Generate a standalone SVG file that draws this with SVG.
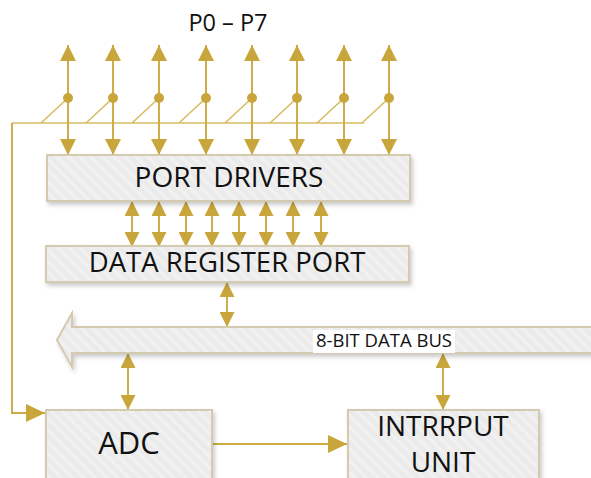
<svg xmlns="http://www.w3.org/2000/svg" width="591" height="478" viewBox="0 0 591 478">
<style>
.lbl{font-family:"Open Sans","Liberation Sans",sans-serif;fill:#111;text-anchor:middle}
.box{fill:url(#hatch);stroke:#d3cab0;stroke-width:2;filter:url(#sh)}
.ln{stroke:#cfac45;stroke-width:2;fill:none}
.thin{stroke:#d8bc62;stroke-width:1.6;fill:none}
.dot{fill:#c9a63c}
</style>
<defs>
<pattern id="hatch" patternUnits="userSpaceOnUse" width="8" height="8" patternTransform="rotate(-45)">
<rect width="8" height="8" fill="#ebebeb"/>
<rect width="3" height="8" fill="#f1f1f1"/>
</pattern>
<filter id="sh" x="-10%" y="-20%" width="130%" height="160%">
<feDropShadow dx="2" dy="3" stdDeviation="2" flood-color="#000" flood-opacity="0.2"/>
</filter>
<marker id="a16" markerUnits="userSpaceOnUse" markerWidth="16" markerHeight="16" refX="16" refY="8" orient="auto-start-reverse" viewBox="0 0 16 16">
<path d="M0,0 L16,8 L0,16 z" fill="#c9a63c"/>
</marker>
<marker id="a14" markerUnits="userSpaceOnUse" markerWidth="15" markerHeight="15" refX="15" refY="7.5" orient="auto-start-reverse" viewBox="0 0 15 15">
<path d="M0,0 L15,7.5 L0,15 z" fill="#c9a63c"/>
</marker>
<marker id="a18" markerUnits="userSpaceOnUse" markerWidth="19" markerHeight="18" refX="19" refY="9" orient="auto-start-reverse" viewBox="0 0 19 18">
<path d="M0,0 L19,9 L0,18 z" fill="#c9a63c"/>
</marker>
</defs>
<rect width="591" height="478" fill="#fff"/>

<text class="lbl" x="228" y="31" font-size="23.5">P0 – P7</text>

<g id="connectors">
<path class="thin" d="M12,123 H364 M41,123 L68,98 M86,123 L113,98 M132,123 L159,98 M179,123 L206,98 M225,123 L252,98 M270,123 L297,98 M317,123 L344,98 M362,123 L389,98"/>
<path class="ln" d="M12,123 V413 H45" marker-end="url(#a18)"/>
<line class="ln" x1="68" y1="45" x2="68" y2="155" marker-start="url(#a16)" marker-end="url(#a16)"/>
<line class="ln" x1="113" y1="45" x2="113" y2="155" marker-start="url(#a16)" marker-end="url(#a16)"/>
<line class="ln" x1="159" y1="45" x2="159" y2="155" marker-start="url(#a16)" marker-end="url(#a16)"/>
<line class="ln" x1="206" y1="45" x2="206" y2="155" marker-start="url(#a16)" marker-end="url(#a16)"/>
<line class="ln" x1="252" y1="45" x2="252" y2="155" marker-start="url(#a16)" marker-end="url(#a16)"/>
<line class="ln" x1="297" y1="45" x2="297" y2="155" marker-start="url(#a16)" marker-end="url(#a16)"/>
<line class="ln" x1="344" y1="45" x2="344" y2="155" marker-start="url(#a16)" marker-end="url(#a16)"/>
<line class="ln" x1="389" y1="45" x2="389" y2="155" marker-start="url(#a16)" marker-end="url(#a16)"/>
<circle class="dot" cx="68" cy="98" r="5"/>
<circle class="dot" cx="113" cy="98" r="5"/>
<circle class="dot" cx="159" cy="98" r="5"/>
<circle class="dot" cx="206" cy="98" r="5"/>
<circle class="dot" cx="252" cy="98" r="5"/>
<circle class="dot" cx="297" cy="98" r="5"/>
<circle class="dot" cx="344" cy="98" r="5"/>
<circle class="dot" cx="389" cy="98" r="5"/>
<line class="ln" x1="132" y1="201" x2="132" y2="247" marker-start="url(#a14)" marker-end="url(#a14)"/>
<line class="ln" x1="159" y1="201" x2="159" y2="247" marker-start="url(#a14)" marker-end="url(#a14)"/>
<line class="ln" x1="186" y1="201" x2="186" y2="247" marker-start="url(#a14)" marker-end="url(#a14)"/>
<line class="ln" x1="212" y1="201" x2="212" y2="247" marker-start="url(#a14)" marker-end="url(#a14)"/>
<line class="ln" x1="239" y1="201" x2="239" y2="247" marker-start="url(#a14)" marker-end="url(#a14)"/>
<line class="ln" x1="266" y1="201" x2="266" y2="247" marker-start="url(#a14)" marker-end="url(#a14)"/>
<line class="ln" x1="293" y1="201" x2="293" y2="247" marker-start="url(#a14)" marker-end="url(#a14)"/>
<line class="ln" x1="321" y1="201" x2="321" y2="247" marker-start="url(#a14)" marker-end="url(#a14)"/>
<line class="ln" x1="227" y1="282" x2="227" y2="327" marker-start="url(#a14)" marker-end="url(#a14)"/>
<line class="ln" x1="128" y1="353" x2="128" y2="410" marker-start="url(#a14)" marker-end="url(#a14)"/>
<line class="ln" x1="443" y1="353" x2="443" y2="410" marker-start="url(#a14)" marker-end="url(#a14)"/>
<line class="ln" x1="212" y1="444" x2="347" y2="444" marker-end="url(#a18)"/>
</g>

<g id="port-drivers">
<rect class="box" x="47" y="155" width="363" height="46"/>
<text class="lbl" x="229" y="187" font-size="28">PORT DRIVERS</text>
</g>

<g id="data-register-port">
<rect class="box" x="46" y="246" width="363" height="36"/>
<text class="lbl" x="227" y="272" font-size="27.5">DATA REGISTER PORT</text>
</g>

<g id="data-bus">
<path class="box" d="M600,327 H72 V313 L57,340 L72,367 V353 H600 z"/>
<rect x="313" y="330" width="142" height="23" fill="#fff"/>
<text class="lbl" x="384" y="347" font-size="18.5">8-BIT DATA BUS</text>
</g>

<g id="adc">
<rect class="box" x="46" y="410" width="166" height="80"/>
<text class="lbl" x="129" y="454" font-size="31">ADC</text>
</g>

<g id="interrupt-unit">
<rect class="box" x="348" y="410" width="191" height="80"/>
<text class="lbl" x="443" y="436" font-size="28">INTRRPUT</text>
<text class="lbl" x="443" y="472" font-size="28">UNIT</text>
</g>
</svg>
